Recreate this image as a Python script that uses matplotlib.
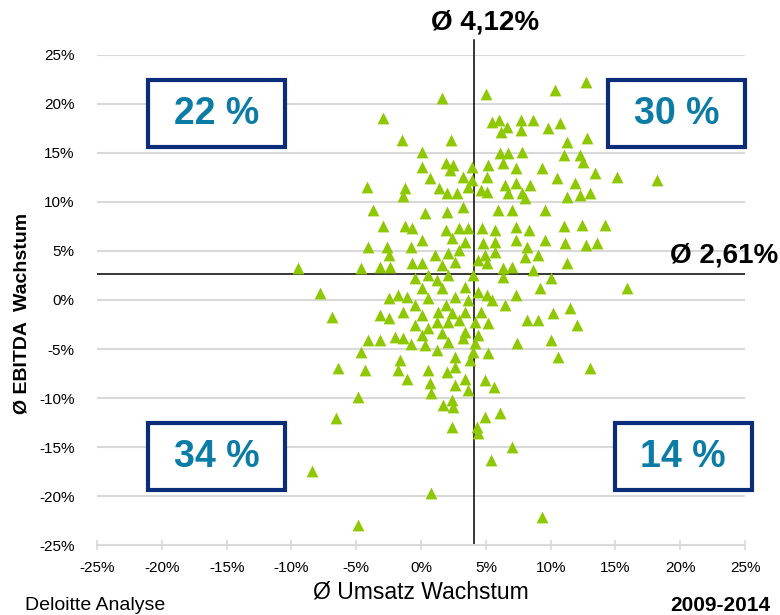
import matplotlib.pyplot as plt
from matplotlib.patches import Rectangle

# Ø Umsatz Wachstum (x) und Ø EBITDA Wachstum (y) je Unternehmen, in %
umsatz = [1.6, 5.0, 12.7, 10.3, -2.9, -1.5, -4.2, -1.2, -1.4, -3.7, -2.9, -1.2,
          5.5, 6.0, 6.6, 6.2, 7.7, 8.6, 7.7, 9.8, 2.3, 0.1, 6.1, 6.7, 7.8,
          0.1, 1.9, 2.5, 2.2, 3.9, 5.2, 6.3, 7.3, 9.3, 0.7, 3.2, 3.9, 5.1,
          6.5, 7.3, 8.4, 1.4, 2.0, 2.8, 3.6, 4.6, 5.1, 6.7, 7.8, 8.0, 0.3,
          2.0, 3.2, 5.9, 7.0, 9.6, 10.7, 11.3, 12.8, 11.0, 12.3, 12.5, 10.5,
          11.9, 13.4, 15.1, 18.2, 11.3, 12.3, 13.0, 11.0, 12.4, 14.2, 11.1,
          12.7, 13.6, 11.3, 10.0, 15.9, 10.2, 11.5, 12.0, 10.6, 13.0,
          -0.7, -4.1, -2.6, -2.5, -0.8, -9.5, -4.6, -3.2, -2.4, -0.7, -7.8,
          -2.5, -1.8, -1.1, -0.5, -6.9, -3.2, -2.5, -1.4, -4.1, -3.2, -2.0,
          -1.4, -0.8, -4.6, -1.6, -6.4, -4.3, -1.8, -1.1, -4.9, -6.6, -8.4,
          -4.9, 0.7, 0.8, 2.6, 3.6, 5.6, 1.7, 2.4, 2.5, 4.9, 6.1, 2.4, 4.3,
          4.4, 7.0, 5.4, 0.8, 9.3,
          1.9, 2.9, 3.6, 4.7, 5.7, 7.3, 8.3, 0.1, 2.4, 3.4, 4.8, 5.7, 7.3,
          8.2, 9.6, 1.1, 2.1, 2.9, 4.9, 5.7, 8.0, 9.0, 0.1, 1.6, 2.6, 4.4,
          5.1, 6.3, 7.0, 0.5, 2.1, 4.0, 6.3, 8.6, -0.5, 1.2, 0.1, 1.6, 3.4,
          4.4, 5.1, 7.3, 9.2, 0.5, 2.6, 3.6, 5.5, 6.5, 1.9, 0.1, 1.3, 2.4,
          3.4, 4.6, 1.2, 2.1, 2.9, 4.2, 5.2, 8.2, 9.0, -0.5, 0.5, 0.1, 1.6,
          3.4, 4.4, 0.3, 2.1, 3.2, 4.2, 7.4, 10.0, 1.2, 4.0, 2.6, 5.2, 3.8,
          0.5, 2.0, 2.6, 3.4, 4.9]
ebitda = [20.6, 21.0, 22.2, 21.4, 18.6, 16.3, 11.5, 11.4, 10.6, 9.2, 7.6, 7.6,
          18.2, 18.4, 17.7, 17.1, 18.4, 18.4, 17.3, 17.6, 16.3, 15.1, 15.0,
          15.0, 15.1, 13.6, 14.0, 13.8, 13.3, 13.6, 13.8, 14.0, 13.5, 13.5,
          12.4, 12.6, 12.2, 12.6, 11.7, 11.9, 11.7, 11.4, 10.9, 10.9, 11.5,
          11.2, 11.0, 10.9, 10.9, 10.4, 8.9, 9.0, 9.5, 9.2, 9.2, 9.2, 18.1,
          16.1, 16.5, 14.8, 14.8, 14.1, 12.4, 11.9, 13.0, 12.6, 12.2, 10.5,
          10.7, 10.9, 7.6, 7.7, 7.7, 5.8, 5.6, 5.8, 3.8, 2.2, 1.2, -1.3,
          -0.8, -2.6, -5.8, -6.9,
          7.3, 5.4, 5.4, 4.6, 5.4, 3.3, 3.3, 3.4, 3.4, 3.8, 0.7, 0.2, 0.5,
          0.3, -0.5, -1.7, -1.5, -1.8, -1.2, -4.1, -4.1, -3.8, -3.9, -4.5,
          -5.3, -6.1, -6.9, -7.1, -7.1, -8.1, -9.9, -12.0, -17.4, -23.0,
          -8.5, -9.5, -8.7, -9.2, -8.9, -10.7, -10.2, -10.9, -11.9, -11.5,
          -13.0, -13.0, -13.6, -15.0, -16.3, -19.7, -22.1,
          7.1, 7.3, 7.3, 7.3, 7.1, 7.4, 7.1, 6.1, 6.3, 5.9, 5.8, 5.9, 6.1,
          5.4, 6.1, 4.6, 4.8, 5.1, 4.6, 4.9, 4.4, 4.6, 3.8, 3.6, 3.9, 4.1,
          3.8, 3.3, 3.4, 2.6, 2.6, 2.6, 2.3, 3.1, 2.2, 2.0, 1.2, 1.2, 1.3,
          0.8, 0.5, 0.5, 1.2, 0.2, 0.3, 0.0, 0.0, -0.5, -0.5, -1.5, -1.2,
          -1.3, -1.2, -1.2, -2.2, -2.2, -2.0, -2.2, -2.3, -2.0, -2.0, -2.6,
          -2.9, -3.6, -3.4, -3.3, -3.6, -4.6, -4.3, -3.9, -4.4, -4.4, -4.1,
          -5.1, -5.3, -5.8, -5.4, -6.1, -7.1, -7.3, -6.8, -8.1, -8.2]

mean_umsatz = 4.12
mean_ebitda = 2.61
ticks = [-25, -20, -15, -10, -5, 0, 5, 10, 15, 20, 25]
quadrants = ["22 %", "30 %", "34 %", "14 %"]

narrow = ['Liberation Sans Narrow', 'Liberation Sans', 'DejaVu Sans']
bold = ['Liberation Sans', 'DejaVu Sans']
grey = '#d9d9d9'
navy = '#0b2c78'
teal = '#0b7ca6'

fig = plt.figure(figsize=(7.8, 6.15), dpi=100)
ax = fig.add_axes([0.1244, 0.1138, 0.8308, 0.7968])

ax.set_xlim(-25, 25)
ax.set_ylim(-25, 25)
ax.set_xticks(ticks)
ax.set_yticks(ticks)
ax.set_xticklabels([f"{t}%" for t in ticks], family=narrow, fontsize=11)
ax.set_yticklabels([f"{t}%" for t in ticks], family=narrow, fontsize=11)
ax.tick_params(axis='y', length=0, pad=16)
ax.tick_params(axis='x', direction='inout', length=7, color=grey, width=1.2, pad=8)
for s in ['top', 'right', 'left']:
    ax.spines[s].set_visible(False)
ax.spines['bottom'].set_color(grey)
ax.spines['bottom'].set_linewidth(1.5)
for t in ticks[1:]:
    ax.axhline(t, color=grey, lw=1.5, zorder=0)

ax.scatter(umsatz, ebitda, marker='^', s=72, color='#8dc800', linewidths=0, zorder=3)

# Mittelwert-Linien
ax.plot([mean_umsatz, mean_umsatz], [-25, 26.5], color='black', lw=1.1, clip_on=False, zorder=2)
ax.plot([-25, 25], [mean_ebitda, mean_ebitda], color='black', lw=1.1, zorder=2)
fig.text(0.622, 0.963, "Ø 4,12%", ha='center', va='center', fontsize=20,
         fontweight='bold', family=bold)
fig.text(0.998, 0.585, "Ø 2,61%", ha='right', va='center', fontsize=20,
         fontweight='bold', family=bold)

# Quadranten-Anteile
boxes = [(0.0787, 0.812), (0.789, 0.812), (0.0787, 0.112), (0.799, 0.112)]
for (bx, by), lab in zip(boxes, quadrants):
    ax.add_patch(Rectangle((bx, by), 0.211, 0.137, transform=ax.transAxes,
                           facecolor='white', edgecolor=navy, lw=3, zorder=5,
                           clip_on=False))
    ax.text(bx + 0.1055, by + 0.0685, lab, transform=ax.transAxes, ha='center',
            va='center', fontsize=27, fontweight='bold', color=teal,
            family=bold, zorder=6)

fig.text(0.539, 0.037, "Ø Umsatz Wachstum", ha='center', va='center',
         fontsize=16.5, family=narrow)
fig.text(0.028, 0.49, "Ø EBITDA  Wachstum", ha='center', va='center',
         rotation=90, fontsize=14, fontweight='bold', family=narrow)
fig.text(0.032, 0.016, "Deloitte Analyse", ha='left', va='center',
         fontsize=14, family=narrow)
fig.text(0.988, 0.016, "2009-2014", ha='right', va='center',
         fontsize=15, fontweight='bold', family=bold)

plt.savefig("out.png")
